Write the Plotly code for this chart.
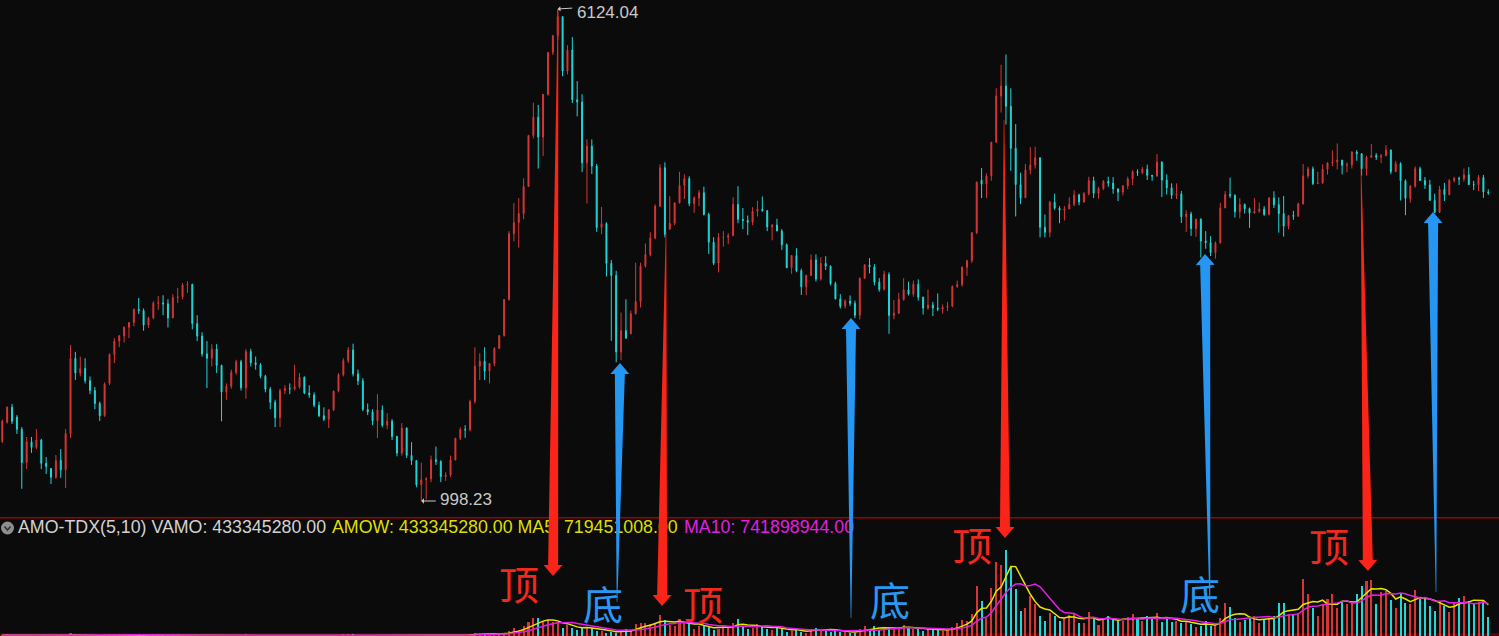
import math
import pandas as pd
import plotly.graph_objects as go

W, H = 1499, 636

# ---------------- data: monthly OHLC (open, high, low, close), Apr 1998 - Sep 2023 ----------------
ohlc_1998 = [(1243,1348,1237,1340),(1335,1414,1328,1411),(1411,1427,1326,1339),(1360,1370,1278,1300),
             (1300,1311,1044,1150),(1150,1264,1123,1242),(1242,1264,1192,1216),(1216,1302,1209,1250),
             (1250,1255,1123,1147)]
ohlc_1999 = [(1147,1174,1103,1134),(1125,1127,1063,1090),(1090,1183,1083,1158),(1160,1209,1087,1120),
             (1120,1302,1047,1280),(1280,1774,1259,1689),(1689,1730,1560,1601),(1600,1700,1580,1627),
             (1627,1690,1540,1556),(1556,1580,1480,1500),(1500,1520,1400,1430),(1430,1440,1341,1367)]
ohlc_2000 = [(1368,1546,1361,1535),(1540,1720,1530,1714),(1714,1820,1660,1800),(1800,1840,1760,1836),
             (1836,1900,1790,1894),(1894,1930,1820,1928),(1928,2030,1900,2023),(2023,2110,1990,2014),
             (2014,2030,1870,1910),(1910,1970,1890,1961),(1961,2085,1950,2070),(2070,2125,2020,2073)]
ohlc_2001 = [(2073,2132,1980,2065),(2065,2100,1893,1960),(1960,2140,1960,2113),(2113,2190,2070,2119),
             (2119,2230,2100,2214),(2214,2245,2150,2218),(2218,2225,1880,1920),(1920,1980,1800,1834),
             (1834,1860,1700,1717),(1717,1800,1514,1690),(1690,1780,1640,1748),(1748,1780,1600,1646)]
ohlc_2002 = [(1646,1650,1339,1491),(1491,1540,1450,1524),(1524,1620,1510,1603),(1603,1680,1590,1668),
             (1668,1680,1500,1515),(1515,1748,1455,1732),(1732,1750,1640,1662),(1662,1700,1620,1650),
             (1650,1660,1570,1581),(1581,1590,1490,1507),(1507,1520,1400,1437),(1437,1450,1311,1357)]
ohlc_2003 = [(1357,1510,1311,1500),(1500,1530,1480,1511),(1511,1540,1480,1510),(1510,1650,1500,1521),
             (1521,1600,1510,1576),(1576,1580,1480,1487),(1487,1530,1460,1476),(1476,1490,1410,1421),
             (1421,1440,1360,1367),(1367,1410,1340,1349),(1349,1400,1307,1397),(1397,1500,1390,1497)]
ohlc_2004 = [(1497,1600,1490,1590),(1590,1690,1580,1675),(1675,1760,1660,1742),(1742,1783,1580,1595),
             (1595,1620,1530,1555),(1555,1570,1390,1399),(1399,1430,1370,1386),(1386,1400,1320,1342),
             (1342,1480,1259,1396),(1396,1420,1310,1320),(1320,1380,1300,1340),(1340,1350,1250,1266)]
ohlc_2005 = [(1266,1270,1177,1191),(1191,1330,1180,1306),(1306,1310,1170,1181),(1181,1240,1140,1159),
             (1159,1160,1050,1060),(1060,1150,998.23,1080),(1080,1090,1004,1083),(1083,1180,1070,1162),
             (1162,1220,1140,1155),(1155,1160,1070,1092),(1092,1110,1075,1099),(1099,1180,1090,1161)]
ohlc_2006 = [(1161,1260,1160,1258),(1258,1310,1250,1299),(1299,1320,1260,1298),(1298,1450,1290,1440),
             (1440,1760,1430,1641),(1641,1720,1560,1672),(1672,1760,1560,1612),(1612,1660,1540,1658),
             (1658,1760,1640,1752),(1752,1840,1750,1837),(1837,2100,1830,2099),(2099,2700,2090,2675)]
ohlc_2007 = [(2675,2995,2600,2786),(2786,3050,2540,2881),(2881,3280,2820,3183),(3183,3850,3180,3841),
             (3841,4335,3800,4109),(4109,4300,3400,3820),(3820,4470,3560,4471),(4471,5220,4450,5218),
             (5218,5560,5170,5552),(5552,6124.04,5460,5954),(5954,5960,4780,4871),(4871,5360,4810,5262)]
ohlc_2008 = [(5265,5522,4330,4383),(4383,4695,4123,4348),(4348,4473,3357,3473),(3473,3787,2990,3693),
             (3693,3786,3333,3433),(3433,3460,2693,2736),(2736,2952,2670,2776),(2776,2790,2284,2397),
             (2397,2427,1802,2293),(2293,2333,1665,1729),(1729,2000,1678,1871),(1871,2100,1814,1821)]
ohlc_2009 = [(1849,2014,1845,1991),(1991,2403,1985,2082),(2082,2403,2037,2373),(2373,2579,2360,2477),
             (2477,2689,2460,2633),(2633,2980,2620,2959),(2959,3454,2950,3412),(3412,3478,2639,2668),
             (2720,3070,2712,2779),(2779,3000,2760,2996),(2996,3361,2990,3195),(3195,3330,3040,3277)]
ohlc_2010 = [(3277,3306,2960,2989),(2989,3070,2890,3051),(3051,3140,2960,3110),(3110,3181,2860,2871),
             (2871,2890,2481,2592),(2592,2640,2382,2398),(2398,2680,2319,2638),(2638,2700,2550,2639),
             (2639,2680,2573,2656),(2656,3060,2650,2979),(2979,3186,2780,2820),(2820,2940,2720,2808)]
ohlc_2011 = [(2808,2860,2661,2791),(2791,2950,2760,2905),(2905,3020,2850,2928),(2928,3067,2900,2911),
             (2911,2920,2700,2743),(2743,2770,2610,2762),(2762,2826,2700,2701),(2701,2720,2520,2568),
             (2568,2580,2356,2359),(2359,2470,2307,2468),(2468,2536,2320,2333),(2333,2350,2134,2199)]
ohlc_2012 = [(2199,2300,2132,2292),(2292,2478,2290,2428),(2428,2478,2242,2263),(2263,2453,2250,2397),
             (2397,2461,2340,2373),(2373,2380,2210,2225),(2225,2240,2100,2103),(2103,2140,2030,2047),
             (2047,2100,2030,2086),(2086,2130,2050,2069),(2069,2090,1959,1980),(1980,2276,1949,2269)]
ohlc_2013 = [(2269,2390,2265,2385),(2385,2444,2310,2366),(2366,2390,2210,2237),(2237,2270,2160,2178),
             (2178,2334,2170,2301),(2301,2320,1849,1979),(1979,2095,1950,1994),(1994,2150,1990,2098),
             (2098,2270,2090,2175),(2175,2240,2130,2141),(2141,2250,2120,2220),(2220,2260,2090,2116)]
ohlc_2014 = [(2116,2120,1985,2033),(2033,2177,2020,2056),(2056,2080,1974,2033),(2033,2146,2010,2026),
             (2026,2060,1991,2039),(2039,2080,2010,2048),(2048,2210,2040,2202),(2202,2250,2190,2217),
             (2217,2370,2200,2364),(2364,2430,2290,2420),(2420,2690,2400,2683),(2683,3240,2670,3235)]
ohlc_2015 = [(3258,3406,3050,3210),(3210,3340,3050,3310),(3310,3750,3250,3748),(3748,4572,3740,4442),
             (4442,4986,4180,4612),(4612,5178,4000,4277),(4277,4572,3373,3664),(3664,4006,2850,3206),
             (3206,3350,2983,3053),(3053,3460,3050,3383),(3383,3680,3330,3445),(3445,3684,3400,3539)]
ohlc_2016 = [(3539,3539,2638,2738),(2738,2870,2638,2688),(2688,3018,2640,3004),(3004,3100,2920,2938),
             (2938,2960,2780,2917),(2917,2960,2808,2930),(2930,3060,2930,2979),(2979,3140,2960,3085),
             (3085,3100,2970,3005),(3005,3120,3000,3100),(3100,3300,3080,3250),(3250,3300,3050,3104)]
ohlc_2017 = [(3104,3180,3044,3159),(3159,3260,3140,3242),(3242,3300,3180,3223),(3223,3295,3100,3155),
             (3155,3160,3017,3117),(3117,3200,3080,3192),(3192,3300,3150,3273),(3273,3380,3200,3361),
             (3361,3390,3310,3349),(3349,3420,3330,3393),(3393,3450,3260,3317),(3317,3320,3250,3307)]
ohlc_2018 = [(3307,3587,3300,3481),(3481,3495,3062,3259),(3259,3330,3091,3169),(3169,3220,3040,3082),
             (3082,3220,3040,3095),(3095,3130,2782,2847),(2847,2916,2691,2876),(2876,2900,2653,2725),
             (2725,2827,2644,2821),(2821,2830,2449,2603),(2603,2700,2530,2588),(2588,2650,2463,2494)]
ohlc_2019 = [(2494,2600,2440,2585),(2585,2997,2580,2941),(2941,3130,2940,3091),(3091,3288,3050,3078),
             (3078,3095,2838,2899),(2899,3048,2830,2979),(2979,2990,2880,2933),(2933,2945,2733,2886),
             (2886,3050,2880,2905),(2905,3000,2890,2929),(2929,2960,2857,2871),(2871,3060,2860,3050)]
ohlc_2020 = [(3050,3127,2940,2977),(2977,3058,2685,2880),(2880,3074,2646,2750),(2750,2860,2720,2860),
             (2860,2910,2815,2852),(2852,3000,2850,2985),(2985,3458,2980,3310),(3310,3424,3280,3396),
             (3396,3426,3200,3218),(3218,3360,3210,3225),(3225,3454,3210,3392),(3392,3474,3326,3473)]
ohlc_2021 = [(3473,3637,3430,3483),(3483,3731,3390,3509),(3509,3510,3328,3442),(3442,3480,3355,3447),
             (3447,3625,3400,3615),(3615,3640,3500,3591),(3591,3600,3313,3397),(3397,3566,3312,3544),
             (3544,3723,3540,3568),(3568,3600,3510,3547),(3547,3590,3470,3564),(3564,3708,3560,3640)]
ohlc_2022 = [(3640,3650,3330,3361),(3361,3500,3360,3462),(3462,3480,3023,3252),(3252,3267,2863,3047),
             (3047,3200,3000,3186),(3186,3427,3170,3399),(3399,3424,3250,3253),(3253,3296,3155,3202),
             (3202,3262,3021,3024),(3024,3100,2885,2893),(2893,3190,2886,3151),(3151,3226,3017,3089)]
ohlc_2023 = [(3089,3270,3080,3255),(3255,3300,3230,3280),(3280,3300,3200,3273),(3273,3400,3240,3323),
             (3323,3418,3200,3205),(3205,3250,3140,3202),(3202,3322,3130,3291),(3291,3322,3053,3120),
             (3120,3150,3086,3110)]

# monthly turnover (100 million yuan)
amo_1998 = [2000, 2600, 2100, 1700, 1500, 1800, 1100, 1500, 1000]
amo_1999 = [900, 700, 1200, 1000, 1600, 6000, 2500, 2300, 1600, 900, 1100, 900]
amo_2000 = [2600, 4300, 3600, 2700, 2900, 2400, 3300, 3100, 1900, 1500, 2900, 2200]
amo_2001 = [1600, 1400, 3000, 2400, 2300, 1900, 1900, 1400, 800, 1500, 1300, 1000]
amo_2002 = [900, 700, 1300, 1200, 1000, 2600, 1400, 1000, 800, 600, 700, 800]
amo_2003 = [1500, 900, 1100, 2200, 1500, 1200, 1000, 900, 800, 700, 1100, 1500]
amo_2004 = [2000, 2700, 3300, 2400, 1200, 1100, 900, 700, 1700, 1200, 1200, 800]
amo_2005 = [700, 1300, 900, 900, 700, 1200, 800, 1100, 1500, 800, 800, 1100]
amo_2006 = [1600, 2200, 1700, 3600, 7000, 5700, 4800, 3400, 4300, 4100, 7000, 12000]
amo_2007 = [18000, 14000, 23000, 32000, 41000, 41000, 34000, 37000, 32000, 30000, 18000, 25000]
amo_2008 = [18000, 14000, 21000, 20000, 18000, 11000, 12000, 8000, 10000, 8000, 13000, 16000]
amo_2009 = [11000, 27000, 29000, 30000, 27000, 30000, 48000, 36000, 25000, 22000, 39000, 33000]
amo_2010 = [28000, 15000, 22000, 24000, 21000, 13000, 17000, 25000, 19000, 30000, 38000, 23000]
amo_2011 = [16000, 18000, 27000, 23000, 17000, 14000, 18000, 18000, 10000, 12000, 16000, 10000]
amo_2012 = [7000, 16000, 19000, 14000, 17000, 10000, 11000, 10000, 9000, 8000, 8000, 16000]
amo_2013 = [23000, 16000, 22000, 14000, 21000, 18000, 17000, 20000, 26000, 20000, 16000, 15000]
amo_2014 = [12000, 17000, 16000, 15000, 11000, 14000, 21000, 30000, 37000, 35000, 51000, 115000]
amo_2015 = [80000, 41000, 110000, 170000, 163000, 198000, 159000, 108000, 57000, 64000, 92000, 74000]
amo_2016 = [46000, 34000, 53000, 46000, 34000, 41000, 48000, 50000, 30000, 30000, 55000, 44000]
amo_2017 = [25000, 39000, 46000, 37000, 35000, 35000, 44000, 51000, 41000, 35000, 46000, 41000]
amo_2018 = [53000, 32000, 41000, 32000, 35000, 30000, 32000, 28000, 21000, 23000, 35000, 23000]
amo_2019 = [25000, 41000, 76000, 67000, 41000, 32000, 37000, 41000, 46000, 30000, 39000, 41000]
amo_2020 = [46000, 76000, 76000, 51000, 51000, 53000, 131000, 97000, 64000, 46000, 74000, 85000]
amo_2021 = [97000, 64000, 80000, 74000, 76000, 97000, 115000, 126000, 129000, 74000, 101000, 103000]
amo_2022 = [83000, 64000, 99000, 76000, 74000, 106000, 87000, 90000, 69000, 57000, 80000, 70000]
amo_2023 = [56000, 76000, 88000, 92174, 80000, 76000, 78000, 82390, 43335]

header_texts = ["AMO-TDX(5,10) VAMO: 433345280.00", "AMOW: 433345280.00 MA5: 719451008.00",
                "MA10: 741898944.00"]
high_label = "6124.04"
low_label = "998.23"

# ---------------- assemble ----------------
ohlc = (ohlc_1998 + ohlc_1999 + ohlc_2000 + ohlc_2001 + ohlc_2002 + ohlc_2003 + ohlc_2004 + ohlc_2005 +
        ohlc_2006 + ohlc_2007 + ohlc_2008 + ohlc_2009 + ohlc_2010 + ohlc_2011 + ohlc_2012 + ohlc_2013 +
        ohlc_2014 + ohlc_2015 + ohlc_2016 + ohlc_2017 + ohlc_2018 + ohlc_2019 + ohlc_2020 + ohlc_2021 +
        ohlc_2022 + ohlc_2023)
amo = (amo_1998 + amo_1999 + amo_2000 + amo_2001 + amo_2002 + amo_2003 + amo_2004 + amo_2005 +
       amo_2006 + amo_2007 + amo_2008 + amo_2009 + amo_2010 + amo_2011 + amo_2012 + amo_2013 +
       amo_2014 + amo_2015 + amo_2016 + amo_2017 + amo_2018 + amo_2019 + amo_2020 + amo_2021 +
       amo_2022 + amo_2023)
N = len(ohlc)
months = pd.period_range("1998-04", periods=N, freq="M").astype(str)
idx = list(range(N))
opens = [r[0] for r in ohlc]
highs = [r[1] for r in ohlc]
lows = [r[2] for r in ohlc]
closes = [r[3] for r in ohlc]
amo_s = pd.Series(amo, dtype=float)
ma5 = amo_s.rolling(5, min_periods=1).mean()
ma10 = amo_s.rolling(10, min_periods=1).mean()

RED = "#d83636"
CYAN = "#20d8d8"
YEL = "#e6e600"
MAG = "#e21ee2"
HDR_GRAY = "#d2d2d2"
HDR_YEL = "#dede00"
HDR_MAG = "#e020e0"
ARROW_RED = "#fa2418"
ARROW_BLUE = "#2596f2"
TXT_RED = "#f2281c"
TXT_BLUE = "#2a98f2"
LABEL_GRAY = "#c8c8c8"
SEP_RED = "#a00000"
BG = "#0b0b0b"

# axes geometry
X_RANGE = [-0.472, 307.2]
SPLIT_PX = 518
PRICE_DOMAIN = [1 - SPLIT_PX / H, 1.0]
PRICE_RANGE = [2.97201, 3.80145]   # log10
VOL_DOMAIN = [0.0, (H - 520) / H]
VOL_RANGE = [0, 266800]

vol_colors = [RED if c >= o else CYAN for o, c in zip(opens, closes)]

fig = go.Figure()
fig.add_trace(go.Candlestick(
    x=idx, open=opens, high=highs, low=lows, close=closes, text=months,
    increasing=dict(line=dict(color=RED, width=1), fillcolor=RED),
    decreasing=dict(line=dict(color=CYAN, width=1), fillcolor=CYAN),
    whiskerwidth=0, showlegend=False, hoverinfo="x+text", xaxis="x", yaxis="y"))
fig.add_trace(go.Bar(x=idx, y=amo, marker=dict(color=vol_colors, line=dict(width=0)),
                     width=0.42, showlegend=False, xaxis="x", yaxis="y2"))
fig.add_trace(go.Scatter(x=idx, y=ma5, mode="lines", line=dict(color=YEL, width=1.5),
                         showlegend=False, xaxis="x", yaxis="y2"))
fig.add_trace(go.Scatter(x=idx, y=ma10, mode="lines", line=dict(color=MAG, width=1.5),
                         showlegend=False, xaxis="x", yaxis="y2"))

# header line as a text trace on a pixel overlay axis (so the arrows can be drawn above it)
fig.add_trace(go.Scatter(
    x=[18, 332, 684], y=[528.5, 528.5, 528.5], mode="text", text=header_texts,
    textposition="middle right", cliponaxis=False, hoverinfo="skip", showlegend=False,
    textfont=dict(family="Liberation Sans, Arial", size=17.8, color=[HDR_GRAY, HDR_YEL, HDR_MAG]),
    xaxis="x3", yaxis="y3"))


def px_to_paper(x, y):
    return x / W, 1 - y / H


def arrow_path(tail, tip, w_tail=0.6, w_base=10.0, head_w=19.0, head_len=11.0):
    tx, ty = tail
    hx, hy = tip
    L = math.hypot(hx - tx, hy - ty)
    dx, dy = (hx - tx) / L, (hy - ty) / L
    nx, ny = -dy, dx
    bx, by = hx - dx * head_len, hy - dy * head_len
    pts = [(tx + nx * w_tail / 2, ty + ny * w_tail / 2),
           (bx + nx * w_base / 2, by + ny * w_base / 2),
           (bx + nx * head_w / 2, by + ny * head_w / 2),
           (hx, hy),
           (bx - nx * head_w / 2, by - ny * head_w / 2),
           (bx - nx * w_base / 2, by - ny * w_base / 2),
           (tx - nx * w_tail / 2, ty - ny * w_tail / 2)]
    s = ""
    for i, (x, y) in enumerate(pts):
        px, py = px_to_paper(x, y)
        s += ("M" if i == 0 else "L") + f"{px:.5f},{py:.5f} "
    return s + "Z"


# decorative arrows (pixel geometry of the overlay drawing)
arrows = [((558, 10), (553, 576), ARROW_RED),
          ((617, 602), (620, 363), ARROW_BLUE),
          ((666, 232), (662, 606), ARROW_RED),
          ((851, 618), (851, 318), ARROW_BLUE),
          ((1004, 120), (1005, 538), ARROW_RED),
          ((1210, 612), (1205, 254), ARROW_BLUE),
          ((1361, 168), (1368, 571), ARROW_RED),
          ((1436, 592), (1433, 212), ARROW_BLUE)]

shapes = []
# panel separator
shapes.append(dict(type="rect", xref="paper", yref="paper", x0=0, x1=1,
                   y0=1 - 518.5 / H, y1=1 - 517 / H,
                   fillcolor=SEP_RED, line=dict(width=0), layer="above"))
# bottom baseline of volume panel
shapes.append(dict(type="rect", xref="paper", yref="paper", x0=0, x1=1, y0=0, y1=3 / H,
                   fillcolor="#5a0000", line=dict(width=0), layer="below"))
# header icon
shapes.append(dict(type="circle", xref="paper", yref="paper",
                   x0=(7.5 - 6.5) / W, x1=(7.5 + 6.5) / W, y0=1 - (528 + 6.5) / H, y1=1 - (528 - 6.5) / H,
                   fillcolor="#8e8e8e", line=dict(width=0)))
p1 = px_to_paper(4.5, 526.5); p2 = px_to_paper(7.5, 530); p3 = px_to_paper(10.5, 526.5)
shapes.append(dict(type="path", xref="paper", yref="paper",
                   path=f"M{p1[0]},{p1[1]} L{p2[0]},{p2[1]} L{p3[0]},{p3[1]}",
                   line=dict(color="#303030", width=1.5)))
for tail, tip, col in arrows:
    shapes.append(dict(type="path", xref="paper", yref="paper", path=arrow_path(tail, tip),
                       fillcolor=col, line=dict(width=0), layer="above"))

annotations = []
i_hi = highs.index(max(highs))
i_lo = lows.index(min(lows))
# extreme value markers: small arrow + value text
for i_ext, val, label, dy_text, dy_arrow in [(i_hi, highs[i_hi], high_label, -3, -1),
                                             (i_lo, lows[i_lo], low_label, 2, 0)]:
    annotations.append(dict(xref="x", yref="y", x=i_ext, y=math.log10(val), text="", showarrow=True,
                            ax=16, ay=dy_arrow, arrowhead=1, arrowsize=0.9, arrowwidth=1,
                            arrowcolor=LABEL_GRAY, standoff=0, startstandoff=0))
    annotations.append(dict(xref="x", yref="y", x=i_ext, y=math.log10(val), xanchor="left",
                            yanchor="middle", text=label, showarrow=False, xshift=17, yshift=dy_text,
                            font=dict(family="Liberation Sans, Arial", size=17, color=LABEL_GRAY)))

labels = [("顶", 519, 583, TXT_RED), ("底", 603, 603, TXT_BLUE), ("顶", 703, 603, TXT_RED),
          ("底", 890, 599, TXT_BLUE), ("顶", 972, 544, TXT_RED), ("底", 1200, 593, TXT_BLUE),
          ("顶", 1329, 545, TXT_RED)]
for t, x, y, c in labels:
    px, py = px_to_paper(x, y)
    annotations.append(dict(xref="paper", yref="paper", x=px, y=py, xanchor="center", yanchor="middle",
                            text=t, showarrow=False,
                            font=dict(family="Noto Sans CJK SC", size=40, color=c)))

fig.update_layout(
    width=W, height=H, autosize=False,
    margin=dict(l=0, r=0, t=0, b=0),
    paper_bgcolor=BG, plot_bgcolor="rgba(0,0,0,0)",
    showlegend=False, bargap=0, boxgap=0.72,
    xaxis=dict(range=X_RANGE, visible=False, showline=False, zeroline=False, showgrid=False,
               rangeslider=dict(visible=False), fixedrange=True),
    yaxis=dict(type="log", range=PRICE_RANGE, domain=PRICE_DOMAIN, visible=False, showgrid=False,
               zeroline=False, fixedrange=True),
    yaxis2=dict(range=VOL_RANGE, domain=VOL_DOMAIN, visible=False, showgrid=False, zeroline=False,
                fixedrange=True),
    xaxis3=dict(range=[0, W], domain=[0, 1], anchor="y3", visible=False, fixedrange=True),
    yaxis3=dict(range=[H, 0], domain=[0, 1], anchor="x3", visible=False, fixedrange=True),
    shapes=shapes, annotations=annotations,
)

fig.write_html("out.html", include_plotlyjs=True, config={"displayModeBar": False},
               post_script="document.body.style.margin='0px';document.body.style.overflow='hidden';")
